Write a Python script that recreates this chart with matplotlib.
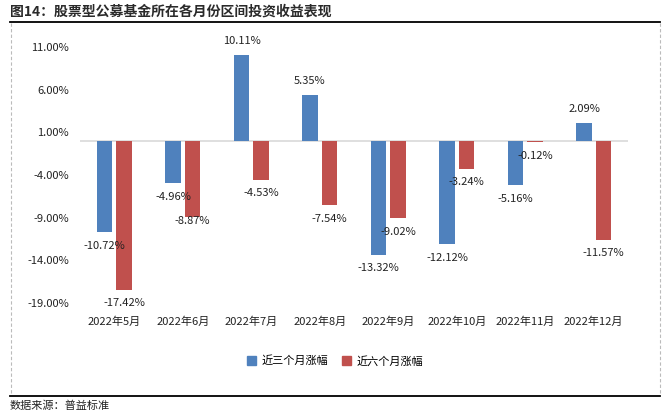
import matplotlib
matplotlib.use('Agg')
import matplotlib.pyplot as plt
import numpy as np
from matplotlib.lines import Line2D

plt.rcParams['font.family'] = ['Noto Sans CJK SC', 'DejaVu Sans']
plt.rcParams['axes.unicode_minus'] = False

months = ['2022年5月', '2022年6月', '2022年7月', '2022年8月',
          '2022年9月', '2022年10月', '2022年11月', '2022年12月']
three_month = [-10.72, -4.96, 10.11, 5.35, -13.32, -12.12, -5.16, 2.09]
six_month = [-17.42, -8.87, -4.53, -7.54, -9.02, -3.24, -0.12, -11.57]
series_names = ['近三个月涨幅', '近六个月涨幅']
y_ticks = [11, 6, 1, -4, -9, -14, -19]

blue = '#4F81BD'
red = '#C0504D'

fig = plt.figure(figsize=(6.72, 4.17), dpi=100)
ax = fig.add_axes([80 / 672, 1 - 303 / 417, 548 / 672, 256 / 417])

x = np.arange(len(months))
w = 0.226
off = 0.142
b1 = ax.bar(x - off, three_month, w, color=blue, label=series_names[0], zorder=3)
b2 = ax.bar(x + off, six_month, w, color=red, label=series_names[1], zorder=3)

ax.set_xlim(-0.5, len(months) - 0.5)
ax.set_ylim(-19, 11)
ax.axhline(0, color='#D9D9D9', lw=1.2, zorder=2)
for s in ax.spines.values():
    s.set_visible(False)
ax.set_yticks(y_ticks)
ax.set_yticklabels([f'{t:.2f}%' for t in y_ticks], fontsize=8, color='#222222')
ax.set_xticks(x)
ax.set_xticklabels(months, fontsize=8, color='#222222')
ax.tick_params(length=0)
ax.tick_params(axis='x', pad=10)
ax.tick_params(axis='y', pad=8)

# the -8.87% label sits closer to its bar in the original
nudge = {(1, 1): -7}
for k, vals in enumerate([three_month, six_month]):
    for i, v in enumerate(vals):
        dy = 10 if v >= 0 else -10
        dy += nudge.get((k, i), 0) * -1 if v < 0 else 0
        xpos = x[i] - off if k == 0 else x[i] + off
        ax.annotate(f'{v:.2f}%', (xpos, v), xytext=(0, dy), textcoords='offset points',
                    ha='center', va='center', fontsize=8, color='#222222',
                    annotation_clip=False, zorder=5)

handles = [plt.Rectangle((0, 0), 1, 1, color=blue), plt.Rectangle((0, 0), 1, 1, color=red)]
fig.legend(handles, series_names, loc='center', bbox_to_anchor=(335 / 672, 1 - 361 / 417),
           ncol=2, frameon=False, fontsize=8, handlelength=0.8, handleheight=0.8,
           handletextpad=0.5, columnspacing=1.2)

fig.text(10 / 672, 1 - 12 / 417, '图14：股票型公募基金所在各月份区间投资收益表现',
         fontsize=10, fontweight='bold', color='#2a2a2a', va='center', ha='left')
fig.add_artist(Line2D([10 / 672, 660 / 672], [1 - 22 / 417, 1 - 22 / 417], color='black', lw=1.3))
fig.add_artist(Line2D([10 / 672, 660 / 672], [1 - 396 / 417, 1 - 396 / 417], color='black', lw=1.3))
fig.add_artist(Line2D([11 / 672, 11 / 672], [1 - 23 / 417, 1 - 395 / 417], color='#BBBBBB', lw=0.8, ls=(0, (3, 2))))
fig.add_artist(Line2D([660 / 672, 660 / 672], [1 - 23 / 417, 1 - 395 / 417], color='#BBBBBB', lw=0.8, ls=(0, (3, 2))))
fig.text(10 / 672, 1 - 406 / 417, '数据来源：普益标准', fontsize=8, color='#222222', va='center', ha='left')

fig.savefig('out.png', dpi=100)
